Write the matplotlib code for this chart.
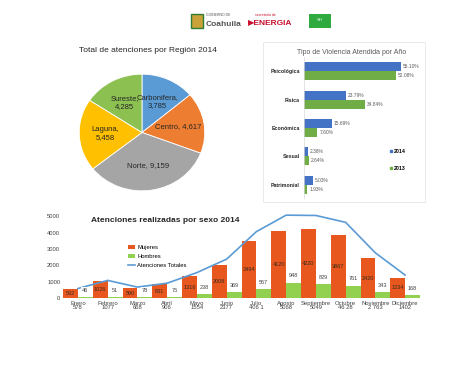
import matplotlib
matplotlib.use('Agg')
import matplotlib.pyplot as plt
from matplotlib.patches import Rectangle
from matplotlib.lines import Line2D

plt.rcParams['font.family'] = ['Liberation Sans Narrow', 'Liberation Sans', 'DejaVu Sans']

# pie data
regiones = ['Carbonifera', 'Centro', 'Norte', 'Laguna', 'Sureste']
atenciones_region = [3785, 4617, 9159, 5458, 4285]
colores_region = ['#5B9BD5', '#ED7D31', '#A5A5A5', '#FFC000', '#8CC152']

# tipo de violencia
tipos = ['Psicológica', 'Física', 'Económica', 'Sexual', 'Patrimonial']
pct_2014 = [55.10, 23.79, 15.69, 2.38, 5.03]
pct_2013 = [52.08, 34.84, 7.60, 2.64, 1.93]

# atenciones por sexo
meses = ['Enero', 'Febrero', 'Marzo', 'Abril', 'Mayo', 'Junio', 'Julio',
         'Agosto', 'Septiembre', 'Octubre', 'Noviembre', 'Diciembre']
mujeres = [532, 1026, 590, 831, 1316, 2008, 3494, 4120, 4220, 3867, 2420, 1234]
hombres = [46, 51, 78, 75, 238, 369, 567, 948, 829, 761, 343, 168]
totales = [578, 1077, 668, 906, 1554, 2377, 4061, 5068, 5049, 4628, 2763, 1402]
totales_txt = ['578', '1077', '668', '906', '1554', '2377', '406 1',
               '5068', '5049', '46 28', '2 763', '1402']

W, H = 474, 366
fig = plt.figure(figsize=(W / 100, H / 100), dpi=100)


def box(x, y, w, h):
    # pixel box (top-left origin) -> figure fraction
    return [x / W, 1 - (y + h) / H, w / W, h / H]


# header "logos"
fig.patches.append(Rectangle((191 / W, 1 - 28 / H), 12 / W, 14 / H, transform=fig.transFigure,
                             facecolor='#C9A23A', edgecolor='#2E7D32', linewidth=1))
fig.text(206 / W, 1 - 16 / H, 'GOBIERNO DE', fontsize=2.5, color='#555555')
fig.text(206 / W, 1 - 24 / H, 'Coahuila', fontsize=6, fontweight='bold', color='#555555', va='center')
fig.text(255 / W, 1 - 16 / H, 'secretaría de', fontsize=2.5, color='#C8102E')
fig.text(248 / W, 1 - 24 / H, '\u25b6ENERGIA', fontsize=6, fontweight='bold', color='#C8102E', va='center')
fig.patches.append(Rectangle((309 / W, 1 - 28 / H), 22 / W, 14 / H, transform=fig.transFigure,
                             facecolor='#2EAA3E', edgecolor='none'))
fig.text(320 / W, 1 - 20 / H, 'SH', fontsize=3, color='white', ha='center', va='center')

# ---- pie ----
ax1 = fig.add_axes(box(78, 73, 128, 119))
wedges, txts = ax1.pie(atenciones_region, colors=colores_region, startangle=90, counterclock=False,
                       wedgeprops=dict(edgecolor='white', linewidth=0.6),
                       labels=['Carbonifera,\n3,785', 'Centro, 4,617', 'Norte, 9,159',
                               'Laguna,\n5,458', 'Sureste,\n4,285'],
                       labeldistance=0.58, textprops=dict(fontsize=5.5, color='#262626', ha='center'))
for t in txts:
    t.set_ha('center')
    t.set_va('center')
ax1.set_aspect('auto')
ax1.set_xlim(-1.02, 1.02)
ax1.set_ylim(-1.02, 1.02)
fig.text(148 / W, 1 - 50 / H, 'Total de atenciones por Región 2014', fontsize=6,
         ha='center', va='center', color='#262626')

# ---- tipo de violencia ----
fig.patches.append(Rectangle((263 / W, 1 - 202 / H), 162 / W, 160 / H, transform=fig.transFigure,
                             facecolor='none', edgecolor='#E6E6E6', linewidth=0.6))
ax2 = fig.add_axes(box(304, 57, 123, 142))
pos = list(range(len(tipos)))
bh = 0.32
ax2.barh([p - bh / 2 for p in pos], pct_2014, height=bh, color='#4472C4', label='2014')
ax2.barh([p + bh / 2 for p in pos], pct_2013, height=bh, color='#70AD47', label='2013')
for p, a, b in zip(pos, pct_2014, pct_2013):
    ax2.text(a + 1.2, p - bh / 2, '%.2f%%' % a, fontsize=3.5, va='center', color='#595959')
    ax2.text(b + 1.2, p + bh / 2, '%.2f%%' % b, fontsize=3.5, va='center', color='#595959')
ax2.set_xlim(0, 70)
ax2.set_ylim(4.5, -0.5)
ax2.set_yticks(pos)
ax2.set_yticklabels(tipos, fontsize=3.8, fontweight='bold', color='#262626')
ax2.set_xticks([])
ax2.tick_params(axis='y', length=0, pad=3)
for s in ax2.spines.values():
    s.set_visible(False)
ax2.axvline(0, color='#D9D9D9', linewidth=0.5)
fig.text(352 / W, 1 - 52 / H, 'Tipo de Violencia Atendida por Año', fontsize=5,
         ha='center', va='center', color='#595959')
fig.legend(handles=[Line2D([], [], marker='s', linestyle='', color='#4472C4', markersize=2, label='2014'),
                    Line2D([], [], marker='s', linestyle='', color='#70AD47', markersize=2, label='2013')],
           loc='center left', bbox_to_anchor=(384 / W, 1 - 160 / H), frameon=False,
           labelspacing=2.2, handletextpad=0.2, handlelength=0.8,
           prop=dict(size=3.8, weight='bold'))

# ---- atenciones por sexo ----
ax3 = fig.add_axes(box(63, 213, 357, 85))
x = list(range(len(meses)))
bw = 0.5
b1 = ax3.bar([i - bw / 2 for i in x], mujeres, width=bw, color='#E8571E', label='Mujeres')
b2 = ax3.bar([i + bw / 2 for i in x], hombres, width=bw, color='#92D050', label='Hombres')
l1, = ax3.plot(x, totales, color='#5B9BD5', linewidth=1.2, label='Atenciones Totales')
for i, m, h in zip(x, mujeres, hombres):
    ax3.text(i - bw / 2, m / 2, str(m), fontsize=4, ha='center', va='center', color='#3A2A20')
    ax3.text(i + bw / 2, h + 250, str(h), fontsize=4, ha='center', va='bottom', color='#404040',
             bbox=dict(facecolor='white', edgecolor='none', pad=0.6))
ax3.set_xlim(-0.5, 11.5)
ax3.set_ylim(0, 5200)
ax3.set_yticks(range(0, 5001, 1000))
ax3.set_yticklabels([str(v) for v in range(0, 5001, 1000)], fontsize=4.2, color='#404040')
ax3.set_xticks(x)
ax3.set_xticklabels(['%s\n%s' % (m, t) for m, t in zip(meses, totales_txt)],
                    fontsize=4.2, color='#404040', linespacing=0.9)
ax3.tick_params(length=0, pad=2)
for s in ax3.spines.values():
    s.set_visible(False)
fig.text(165 / W, 1 - 220 / H, 'Atenciones realizadas por sexo 2014', fontsize=6,
         fontweight='bold', ha='center', va='center', color='#262626')
ax3.legend(handles=[b1, b2, l1], loc='upper left', bbox_to_anchor=(60 / 357, 1 - 27 / 85),
           frameon=False, fontsize=4.2, handlelength=1.2, handletextpad=0.3, labelspacing=0.7,
           handleheight=0.6)

fig.savefig('out.png', dpi=100, facecolor='white')
